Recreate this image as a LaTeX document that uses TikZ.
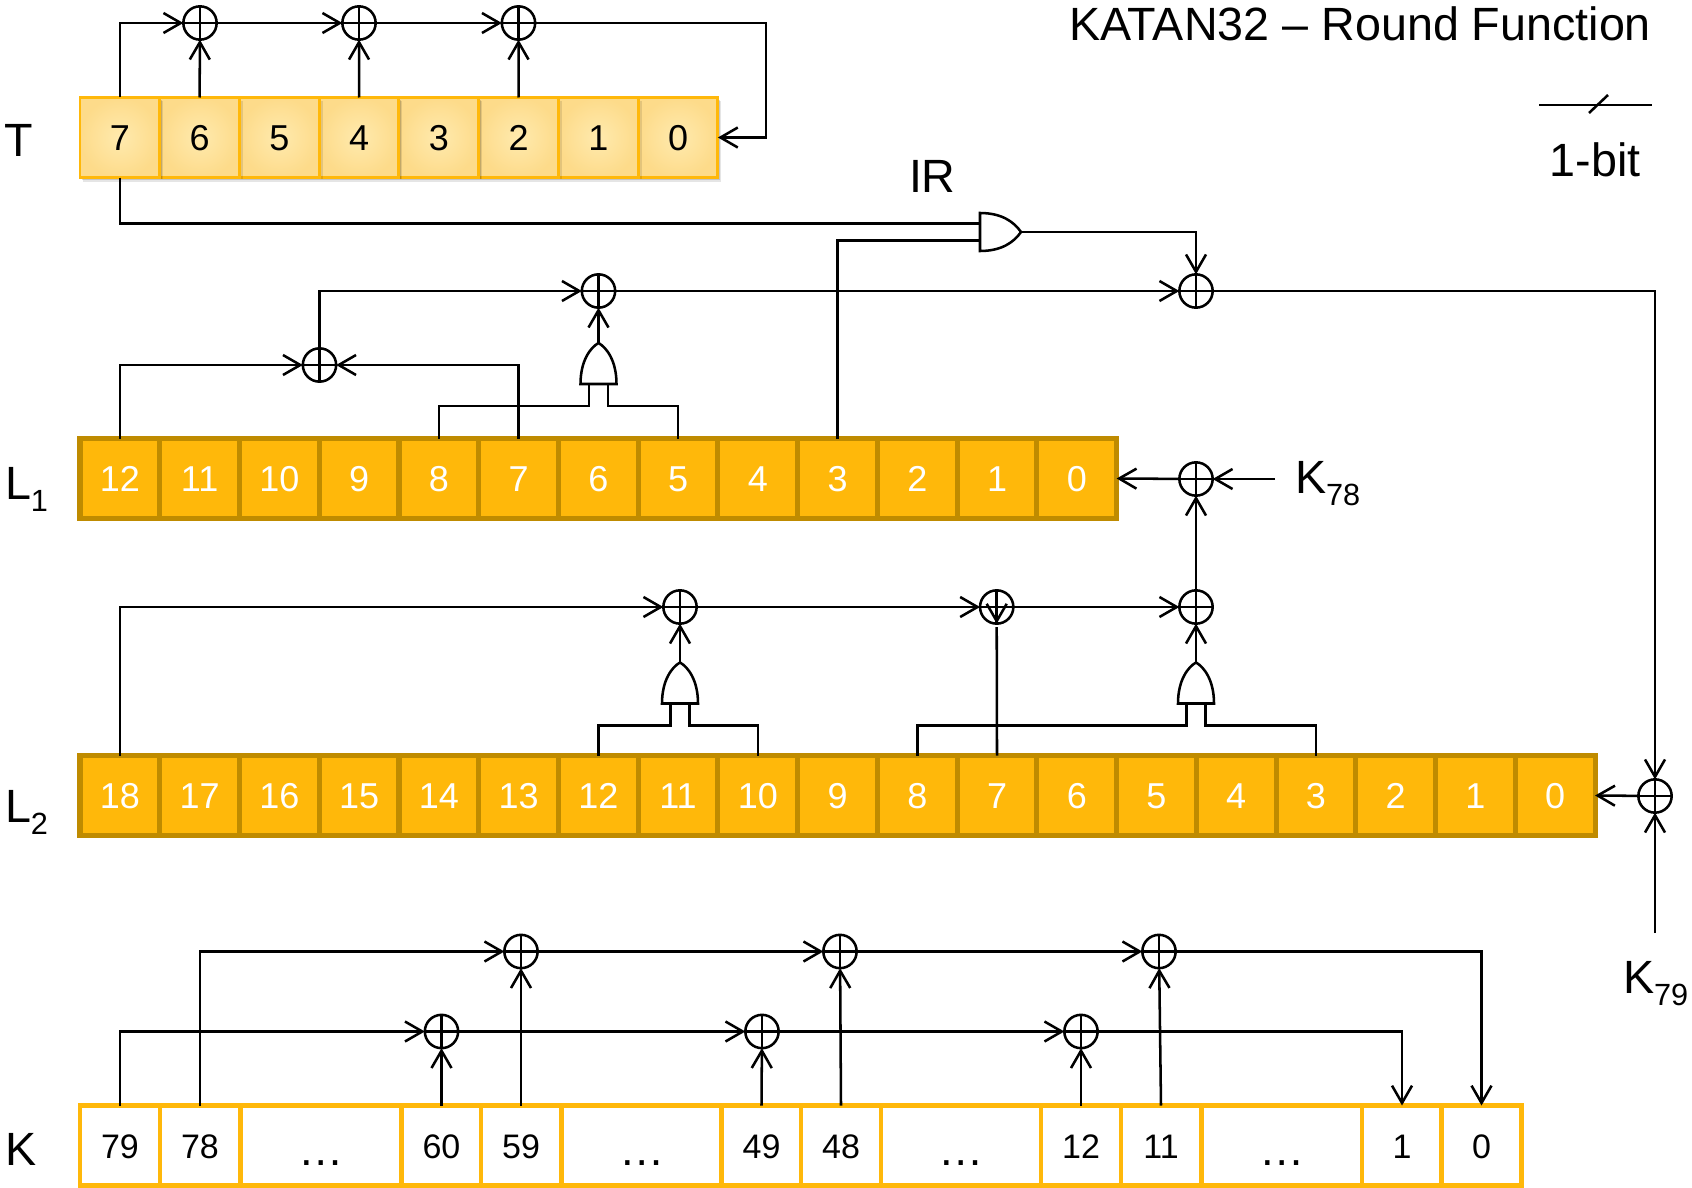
\documentclass[tikz,border=0pt]{standalone}
\usepackage{fontspec}
\setmainfont{Liberation Sans}
\usetikzlibrary{arrows.meta,shadows,calc}
\definecolor{gold}{HTML}{FFB80A}
\definecolor{darkgold}{HTML}{BF8B00}
\definecolor{paleout}{HTML}{FDDB8A}
\definecolor{palein}{HTML}{FFEAAE}
\newcommand{\subt}[1]{\raisebox{-9pt}{\fontsize{23}{23}\selectfont #1}}
\tikzset{
  x=0.75pt,y=-0.75pt,
  wire/.style={line width=1.9pt,draw=black,line join=miter},
  arr/.style={wire,-{Straight Barb[length=13pt,width=15pt]}},
  cellbase/.style={rectangle,inner sep=0pt,outer sep=0pt,minimum width=59.8pt,minimum height=60pt,
     text height=19.3pt,text depth=0pt,font=\fontsize{27}{27}\selectfont},
  softshadow/.style={general shadow={shadow xshift=2.5pt,shadow yshift=-3pt,fill=black,opacity=.10},
     general shadow={shadow xshift=1.5pt,shadow yshift=-2pt,fill=black,opacity=.14}},
  tcell/.style={cellbase,softshadow,draw=gold,line width=2.2pt,shade,shading=radial,inner color=palein,outer color=paleout,text=black},
  lcell/.style={cellbase,draw=darkgold,fill=gold,line width=3.8pt,text=white},
  kcell/.style={cellbase,draw=gold,fill=white,line width=3.6pt,minimum width=60pt,text=black,font=\fontsize{25.5}{25.5}\selectfont},
  xorgate/.style={circle,draw=black,line width=1.9pt,inner sep=0pt,outer sep=0pt,minimum size=25pt,
     path picture={\draw[line width=1.9pt] (path picture bounding box.north)--(path picture bounding box.south)
        (path picture bounding box.west)--(path picture bounding box.east);}},
  gatebox/.style={rectangle,inner sep=0pt,outer sep=0pt,minimum width=27pt,minimum height=31pt},
  hgatebox/.style={rectangle,inner sep=0pt,outer sep=0pt,minimum width=31pt,minimum height=28pt},
  big/.style={inner sep=0pt,outer sep=0pt,font=\fontsize{35}{35}\selectfont},
}
\newcommand{\andup}[3]{%
  \node[gatebox] (#1) at (#2,#3) {};
  \draw[wire,fill=white,shift={(#2,#3)}] (-18,20.5) .. controls (-18,-3) and (-8,-16) .. (0,-20.5)
     .. controls (8,-16) and (18,-3) .. (18,20.5) -- cycle;
}
\newcommand{\legs}[3]{%
  \draw[wire] ([xshift=-7.2pt]#1.south) -- ++(0,22) -| (#2);
  \draw[wire] ([xshift=7.2pt]#1.south) -- ++(0,22) -| (#3);
}
\begin{document}
\begin{tikzpicture}
\useasboundingbox (0,0) rectangle (1692,1188);

% registers
\foreach \i in {0,...,7} \node[tcell] (t\i) at ({80+79.74*(7-\i+.5)},137.5) {\i};
\foreach \i in {0,...,12} \node[lcell] (a\i) at ({80+79.74*(12-\i+.5)},478.5) {\i};
\foreach \i in {0,...,18} \node[lcell] (b\i) at ({80+79.74*(18-\i+.5)},795.5) {\i};
\foreach \n/\cx/\w/\txt in {k79/120/80/79,k78/200/80/78,kd1/321/161/{},k60/441.5/80/60,k59/521/80/59,kd2/642/161/{},
  k49/761.5/80/49,k48/841/80/48,kd3/961.5/161/{},k12/1081/80/12,k11/1161/80/11,kd4/1282/161/{},k1/1402/80/1,k0/1481.5/80/0}
  \node[kcell,minimum width=\w*0.75pt] (\n) at (\cx,1145.5) {\txt};
\foreach \n in {kd1,kd2,kd3,kd4}
  \node[inner sep=0pt,font=\fontsize{34}{34}\selectfont,anchor=base] (\n t) at ($(\n.center)+(0,20)$) {…};

% labels
\node[big,anchor=base east] (title) at (1651,41) {KATAN32 – Round Function};
\node[big,anchor=base] (onebit) at (1595,176) {1-bit};
\node[big,anchor=base west] (ir) at (909,192) {IR};
\node[big,anchor=base west] (lt) at (4,156) {T};
\node[big,anchor=base west] (ll1) at (5,499) {L\subt{1}};
\node[big,anchor=base west] (ll2) at (5,822) {L\subt{2}};
\node[big,anchor=base west] (lk) at (5,1165) {K};
\node[big,anchor=base west] (lk78) at (1295,493) {K\subt{78}};
\node[big,anchor=base west] (lk79) at (1623,993) {K\subt{79}};

% legend
\coordinate (lega) at (1539,105);
\coordinate (legb) at (1652,105);
\coordinate (legc) at (1589,113);
\coordinate (legd) at (1608,95);
\draw[wire] (lega) -- (legb);
\draw[wire] (legc) -- (legd);

% xor gates
\node[xorgate] (xt1) at (200,23) {};
\node[xorgate] (xt2) at (359,23) {};
\node[xorgate] (xt3) at (518.5,23) {};
\node[xorgate] (xa) at (319.5,365) {};
\node[xorgate] (xb) at (598.5,291) {};
\node[xorgate] (xc) at (1196,291) {};
\node[xorgate] (xd) at (1196,479) {};
\node[xorgate] (xe) at (680,607) {};
\node[xorgate] (xf) at (996.7,607) {};
\node[xorgate] (xg) at (1196,607) {};
\node[xorgate] (xh) at (1655,796) {};
\node[xorgate] (xk1) at (521,951.5) {};
\node[xorgate] (xk2) at (840,951.5) {};
\node[xorgate] (xk3) at (1159,951.5) {};
\node[xorgate] (xk4) at (441.5,1031.5) {};
\node[xorgate] (xk5) at (762,1031.5) {};
\node[xorgate] (xk6) at (1081,1031.5) {};

% and gates
\andup{ga}{598.5}{363.5}
\andup{gb}{680}{683}
\andup{gc}{1196}{683}
\node[hgatebox] (hg) at (1000,232) {};
\draw[wire,fill=white] (980,213) .. controls (1002,213) and (1014,222) .. (1021,232)
   .. controls (1014,242) and (1002,251) .. (980,251) -- cycle;

\coordinate (gal) at (a8.north);
\coordinate (gar) at (a5.north);
\legs{ga}{a8.north}{a5.north}
\legs{gb}{b12.north}{b10.north}
\legs{gc}{b8.north}{b3.north}

% T register
\draw[arr] (t7.north) |- (xt1);
\draw[arr] (xt1) -- (xt2);
\draw[arr] (xt2) -- (xt3);
\draw[arr] (t6.north) -- (xt1);
\draw[arr] (t4.north) -- (xt2);
\draw[arr] (t2.north) -- (xt3);
\coordinate (tbend) at (766,137.5);
\draw[arr] (xt3) -| (tbend) -- (t0.east);

% IR gate inputs and output
\draw[wire] (t7.south) |- ([yshift=6.5pt]hg.west);
\draw[wire] (a3.north) |- ([yshift=-6.5pt]hg.west);
\draw[arr] (1021,232) -| (xc);

% L1 feedback
\draw[arr] (a12.north) |- (xa);
\draw[arr] (a7.north) |- (xa);
\draw[arr] (xa) |- (xb);
\draw[arr] (ga.north) -- (xb);
\draw[arr] (xb) -- (xc);
\coordinate (rbend) at (1655,291);
\draw[arr] (xc) -- (rbend) -- (xh);
\coordinate (k79in) at (1655,933);
\draw[arr] (k79in) -- (xh);
\draw[arr] (xh) -- (b0.east);

% L1 input
\coordinate (k78in) at (1275,479);
\draw[arr] (k78in) -- (xd);
\draw[arr] (xd) -- (a0.east);
\draw[arr] (xg) -- (xd);

% L2 feedback
\draw[arr] (b18.north) |- (xe);
\draw[arr] (gb.north) -- (xe);
\draw[arr] (xe) -- (xf);
\draw[arr] (xf) -- (xg);
\draw[arr] (gc.north) -- (xg);
\draw[wire] (b7.north) -- ([yshift=-2.5pt]xf.south);
\draw[arr] (xf.north) -- (xf.south);

% K register
\draw[arr] (k78.north) |- (xk1);
\draw[arr] (xk1) -- (xk2);
\draw[arr] (xk2) -- (xk3);
\draw[arr] (xk3) -| (k0.north);
\draw[arr] (k79.north) |- (xk4);
\draw[arr] (xk4) -- (xk5);
\draw[arr] (xk5) -- (xk6);
\draw[arr] (xk6) -| (k1.north);
\draw[arr] (k60.north) -- (xk4);
\draw[arr] (k59.north) -- (xk1);
\draw[arr] (k49.north) -- (xk5);
\draw[arr] (k48.north) -- (xk2);
\draw[arr] (k12.north) -- (xk6);
\draw[arr] (k11.north) -- (xk3);
\end{tikzpicture}
\end{document}
